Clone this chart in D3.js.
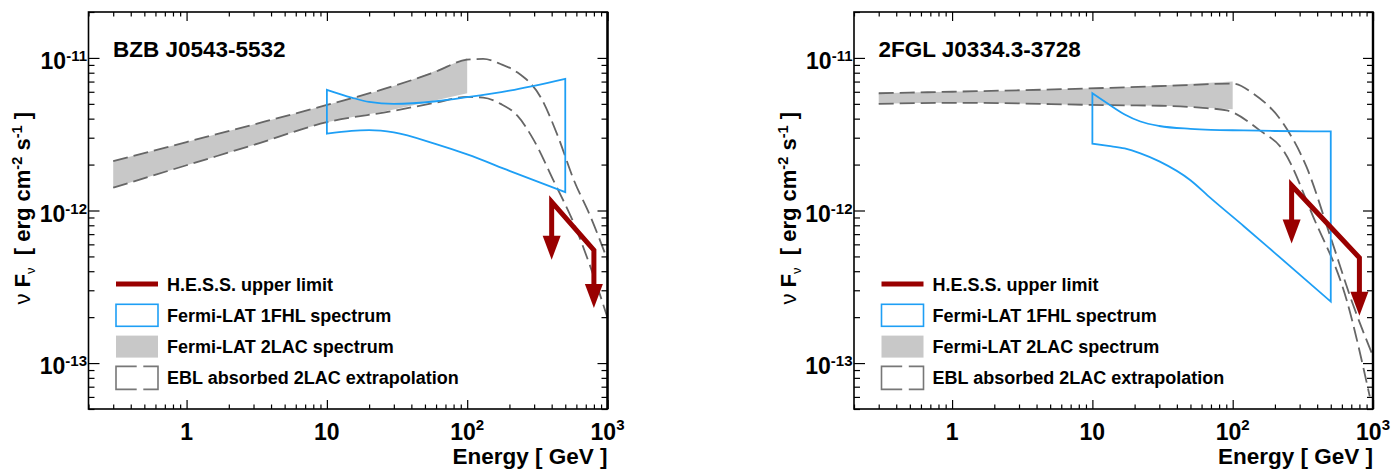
<!DOCTYPE html>
<html>
<head>
<meta charset="utf-8">
<script src="https://cdn.jsdelivr.net/npm/d3@7"></script>
<style>
body { margin: 0; background: #fff; }
text { font-family: "Liberation Sans", Arial, Helvetica, sans-serif; font-weight: bold; fill: #000; }
</style>
</head>
<body>
<div id="chart"></div>
<script>
// ---- data ----
var sourceNames = ["BZB J0543-5532", "2FGL J0334.3-3728"];
var legendLabels = ["H.E.S.S. upper limit", "Fermi-LAT 1FHL spectrum",
    "Fermi-LAT 2LAC spectrum", "EBL absorbed 2LAC extrapolation"];

var xTickValues = [1, 10, 100, 1000];
var xTickBase = ["1", "10", "10", "10"];
var xTickSup = ["", "", "2", "3"];
var yTickValues = [1e-11, 1e-12, 1e-13];
var yTickBase = ["10", "10", "10"];
var yTickSup = ["-11", "-12", "-13"];

// BZB J0543-5532
var bzbLacE  = [0.3, 1, 3, 10, 30, 100];
var bzbLacHi = [2.11e-12, 2.81e-12, 3.66e-12, 4.92e-12, 6.55e-12, 1.0e-11];
var bzbLacLo = [1.41e-12, 1.98e-12, 2.69e-12, 3.79e-12, 4.6e-12, 5.87e-12];
var bzbFhlE  = [10, 15, 20, 30, 60, 100, 200, 500];
var bzbFhlHi = [6.18e-12, 5.5e-12, 5.15e-12, 5.0e-12, 5.2e-12, 5.53e-12, 6.1e-12, 7.29e-12];
var bzbFhlLo = [3.19e-12, 3.33e-12, 3.36e-12, 3.25e-12, 2.72e-12, 2.33e-12, 1.82e-12, 1.32e-12];
var bzbEblHiE = [0.3, 1, 3, 10, 30, 60, 100, 130, 173, 227, 334, 441, 576, 758, 1000];
var bzbEblHiF = [2.11e-12, 2.81e-12, 3.66e-12, 4.92e-12, 6.55e-12, 8.14e-12, 9.75e-12, 9.85e-12,
    9.13e-12, 8.05e-12, 5.53e-12, 3.1e-12, 1.58e-12, 9.08e-13, 4.73e-13];
var bzbEblLoE = [0.3, 1, 3, 10, 30, 60, 100, 130, 173, 227, 299, 415, 576, 800, 1000];
var bzbEblLoF = [1.41e-12, 1.98e-12, 2.69e-12, 3.79e-12, 4.5e-12, 5.1e-12, 5.55e-12, 5.5e-12,
    5.0e-12, 4.2e-12, 2.88e-12, 1.55e-12, 8.22e-13, 3.68e-13, 1.98e-13];
var bzbHessE = [400, 800];
var bzbHessF = [1.14e-12, 5.5e-13];

// 2FGL J0334.3-3728
var fglLacE  = [0.3, 1.15, 13.4, 30.4, 100];
var fglLacHi = [5.87e-12, 6.02e-12, 6.37e-12, 6.6e-12, 7.0e-12];
var fglLacLo = [5.0e-12, 5.08e-12, 4.9e-12, 4.86e-12, 4.61e-12];
var fglFhlE  = [10, 13, 17, 22, 30, 50, 70, 120, 200, 500];
var fglFhlHi = [5.87e-12, 4.99e-12, 4.26e-12, 3.83e-12, 3.58e-12, 3.43e-12, 3.38e-12,
    3.35e-12, 3.32e-12, 3.3e-12];
var fglFhlLo = [2.74e-12, 2.65e-12, 2.55e-12, 2.37e-12, 2.1e-12, 1.58e-12, 1.2e-12,
    7.89e-13, 5.26e-13, 2.53e-13];
var fglEblHiE = [0.3, 1.15, 13.4, 50, 100, 140, 229, 336, 493, 721, 1000];
var fglEblHiF = [5.87e-12, 6.02e-12, 6.37e-12, 6.65e-12, 6.79e-12, 5.84e-12, 3.72e-12,
    1.93e-12, 6.9e-13, 2.41e-13, 1.11e-13];
var fglEblLoE = [0.3, 1.15, 13.4, 30.4, 58.5, 90.6, 156, 229, 375, 648, 948];
var fglEblLoF = [5.0e-12, 5.08e-12, 4.9e-12, 4.86e-12, 4.72e-12, 4.53e-12, 3.35e-12,
    2.48e-12, 9.08e-13, 2.6e-13, 6.05e-14];
var fglHessE = [263, 800];
var fglHessF = [1.46e-12, 4.9e-13];

var panels = [
    { name: sourceNames[0], left: 88.5, lacE: bzbLacE, lacHi: bzbLacHi, lacLo: bzbLacLo,
      fhlE: bzbFhlE, fhlHi: bzbFhlHi, fhlLo: bzbFhlLo,
      eblHiE: bzbEblHiE, eblHiF: bzbEblHiF, eblLoE: bzbEblLoE, eblLoF: bzbEblLoF,
      hessE: bzbHessE, hessF: bzbHessF },
    { name: sourceNames[1], left: 854, lacE: fglLacE, lacHi: fglLacHi, lacLo: fglLacLo,
      fhlE: fglFhlE, fhlHi: fglFhlHi, fhlLo: fglFhlLo,
      eblHiE: fglEblHiE, eblHiF: fglEblHiF, eblLoE: fglEblLoE, eblLoF: fglEblLoF,
      hessE: fglHessE, hessF: fglHessF }
];

var W = 1399, H = 470;
var plotW = 519, plotTop = 12, plotBottom = 409;
var red = "#990000", blue = "#1e9ff5", grayFill = "#c8c8c8", dashCol = "#666666";

var svg = d3.select("#chart").append("svg")
    .attr("width", W)
    .attr("height", H);

function isDecade(v) {
    var l = Math.log10(v);
    return Math.abs(l - Math.round(l)) < 1e-6;
}

function addSup(sel, base, sup, supSize, dy) {
    sel.append("tspan").text(base);
    if (sup) sel.append("tspan").attr("dy", dy).attr("font-size", supSize).text(sup);
}

panels.forEach(function(p, pi) {
    var right = p.left + plotW;
    var x = d3.scaleLog().domain([0.2, 1000]).range([p.left, right]);
    var y = d3.scaleLog().domain([5e-14, 2e-11]).range([plotBottom, plotTop]);

    var g = svg.append("g");

    svg.append("clipPath").attr("id", "clip" + pi)
        .append("rect")
        .attr("x", p.left).attr("y", plotTop)
        .attr("width", plotW).attr("height", plotBottom - plotTop);

    var plot = g.append("g").attr("clip-path", "url(#clip" + pi + ")");

    // 2LAC band
    var band = d3.area()
        .x(function(d) { return x(d.e); })
        .y0(function(d) { return y(d.lo); })
        .y1(function(d) { return y(d.hi); })
        .curve(d3.curveMonotoneX);

    var lac = p.lacE.map(function(e, i) { return { e: e, lo: p.lacLo[i], hi: p.lacHi[i] }; });
    plot.append("path")
        .attr("d", band(lac))
        .attr("fill", grayFill)
        .attr("stroke", "none");

    // EBL absorbed extrapolation
    var line = d3.line()
        .x(function(d) { return x(d[0]); })
        .y(function(d) { return y(d[1]); })
        .curve(d3.curveMonotoneX);

    [[p.eblHiE, p.eblHiF], [p.eblLoE, p.eblLoF]].forEach(function(s) {
        plot.append("path")
            .attr("d", line(s[0].map(function(e, i) { return [e, s[1][i]]; })))
            .attr("fill", "none")
            .attr("stroke", dashCol)
            .attr("stroke-width", 1.8)
            .attr("stroke-dasharray", "15,6");
    });

    // 1FHL bowtie
    var fhl = p.fhlE.map(function(e, i) { return { e: e, lo: p.fhlLo[i], hi: p.fhlHi[i] }; });
    plot.append("path")
        .attr("d", band(fhl))
        .attr("fill", "none")
        .attr("stroke", blue)
        .attr("stroke-width", 1.8);

    // H.E.S.S. upper limit with arrows
    var shaft = 38, headTop = 34, headLen = 58, headHalf = 9;
    var hp = p.hessE.map(function(e, i) { return [x(e), y(p.hessF[i])]; });
    var ulPts = [[hp[0][0], hp[0][1] + shaft]].concat(hp).concat([[hp[1][0], hp[1][1] + shaft]]);
    plot.append("path")
        .attr("d", d3.line()(ulPts))
        .attr("fill", "none")
        .attr("stroke", red)
        .attr("stroke-width", 5)
        .attr("stroke-linejoin", "miter");
    hp.forEach(function(pt) {
        plot.append("path")
            .attr("d", d3.line()([[pt[0] - headHalf, pt[1] + headTop], [pt[0] + headHalf, pt[1] + headTop],
                [pt[0], pt[1] + headLen]]) + "Z")
            .attr("fill", red);
    });

    // ticks
    var xMinor = x.ticks().filter(function(v) { return !isDecade(v); });
    var yMinor = y.ticks().filter(function(v) { return !isDecade(v); });

    function ticks(axis, vals, len, tx, ty) {
        var a = g.append("g")
            .attr("transform", "translate(" + tx + "," + ty + ")")
            .call(axis.tickValues(vals).tickSize(-len).tickFormat(""));
        a.select(".domain").remove();
        a.selectAll("line").attr("stroke", "#000").attr("stroke-width", 1.2);
    }
    ticks(d3.axisBottom(x), xTickValues, 9, 0, plotBottom);
    ticks(d3.axisBottom(x), xMinor, 4.5, 0, plotBottom);
    ticks(d3.axisTop(x), xTickValues, 9, 0, plotTop);
    ticks(d3.axisTop(x), xMinor, 4.5, 0, plotTop);
    ticks(d3.axisLeft(y), yTickValues, 11, p.left, 0);
    ticks(d3.axisLeft(y), yMinor, 6, p.left, 0);
    ticks(d3.axisRight(y), yTickValues, 10, right, 0);
    ticks(d3.axisRight(y), yMinor, 6, right, 0);

    // frame
    g.append("rect")
        .attr("x", p.left).attr("y", plotTop)
        .attr("width", plotW).attr("height", plotBottom - plotTop)
        .attr("fill", "none")
        .attr("stroke", "#000")
        .attr("stroke-width", 1.6);
    g.append("line")
        .attr("x1", right).attr("x2", right)
        .attr("y1", plotTop).attr("y2", plotBottom)
        .attr("stroke", "#000")
        .attr("stroke-width", 2.4);

    // tick labels
    xTickValues.forEach(function(v, i) {
        var t = g.append("text")
            .attr("x", x(v))
            .attr("y", plotBottom + 31)
            .attr("text-anchor", "middle")
            .attr("font-size", 23);
        addSup(t, xTickBase[i], xTickSup[i], 15, -10);
    });
    yTickValues.forEach(function(v, i) {
        var t = g.append("text")
            .attr("x", p.left - 1.5)
            .attr("y", y(v) + 11)
            .attr("text-anchor", "end")
            .attr("font-size", 23);
        addSup(t, yTickBase[i], yTickSup[i], 15, -8);
    });

    // axis titles
    g.append("text")
        .attr("x", right)
        .attr("y", plotBottom + 55)
        .attr("text-anchor", "end")
        .attr("font-size", 22.5)
        .text("Energy [ GeV ]");

    var yt = g.append("text")
        .attr("transform", "translate(" + (p.left - 58.5) + "," + 112 + ") rotate(-90)")
        .attr("text-anchor", "end")
        .attr("font-size", 22);
    yt.append("tspan").attr("font-weight", "normal").text("\u03bd ");
    yt.append("tspan").text("F");
    yt.append("tspan").attr("dy", 5).attr("font-size", 13).attr("font-weight", "normal").text("\u03bd");
    yt.append("tspan").attr("dy", -5).text("\u00a0 [ erg cm");
    yt.append("tspan").attr("dy", -8).attr("font-size", 14.5).text("-2");
    yt.append("tspan").attr("dy", 8).text(" s");
    yt.append("tspan").attr("dy", -8).attr("font-size", 14.5).text("-1");
    yt.append("tspan").attr("dy", 8).text(" ]");

    // source name
    g.append("text")
        .attr("x", p.left + 24.5)
        .attr("y", 57)
        .attr("font-size", 22.5)
        .text(p.name);

    // legend
    var lg = g.append("g").attr("transform", "translate(" + (p.left + 27.5) + "," + 284 + ")");
    var rowH = 31.3, sw = 42, sh = 22;
    legendLabels.forEach(function(lab, i) {
        var row = lg.append("g").attr("transform", "translate(0," + (i * rowH) + ")");
        if (i === 0) {
            row.append("line").attr("x1", 0).attr("x2", sw).attr("y1", 0).attr("y2", 0)
                .attr("stroke", red).attr("stroke-width", 5);
        } else if (i === 1) {
            row.append("rect").attr("x", 0).attr("y", -sh / 2).attr("width", sw).attr("height", sh)
                .attr("fill", "none").attr("stroke", blue).attr("stroke-width", 1.6);
        } else if (i === 2) {
            row.append("rect").attr("x", 0).attr("y", -sh / 2).attr("width", sw).attr("height", sh)
                .attr("fill", grayFill);
        } else {
            var h2 = sh / 2 + 0.5;
            row.append("path")
                .attr("d", "M20.7," + (-h2) + "H0V" + h2 + "H20.7M27.3," + (-h2) + "H" + sw + "V" + h2 + "H27.3")
                .attr("fill", "none").attr("stroke", "#777").attr("stroke-width", 1.6);
        }
        row.append("text")
            .attr("x", 51)
            .attr("y", 6.5)
            .attr("font-size", 18)
            .text(lab);
    });
});
</script>
</body>
</html>
